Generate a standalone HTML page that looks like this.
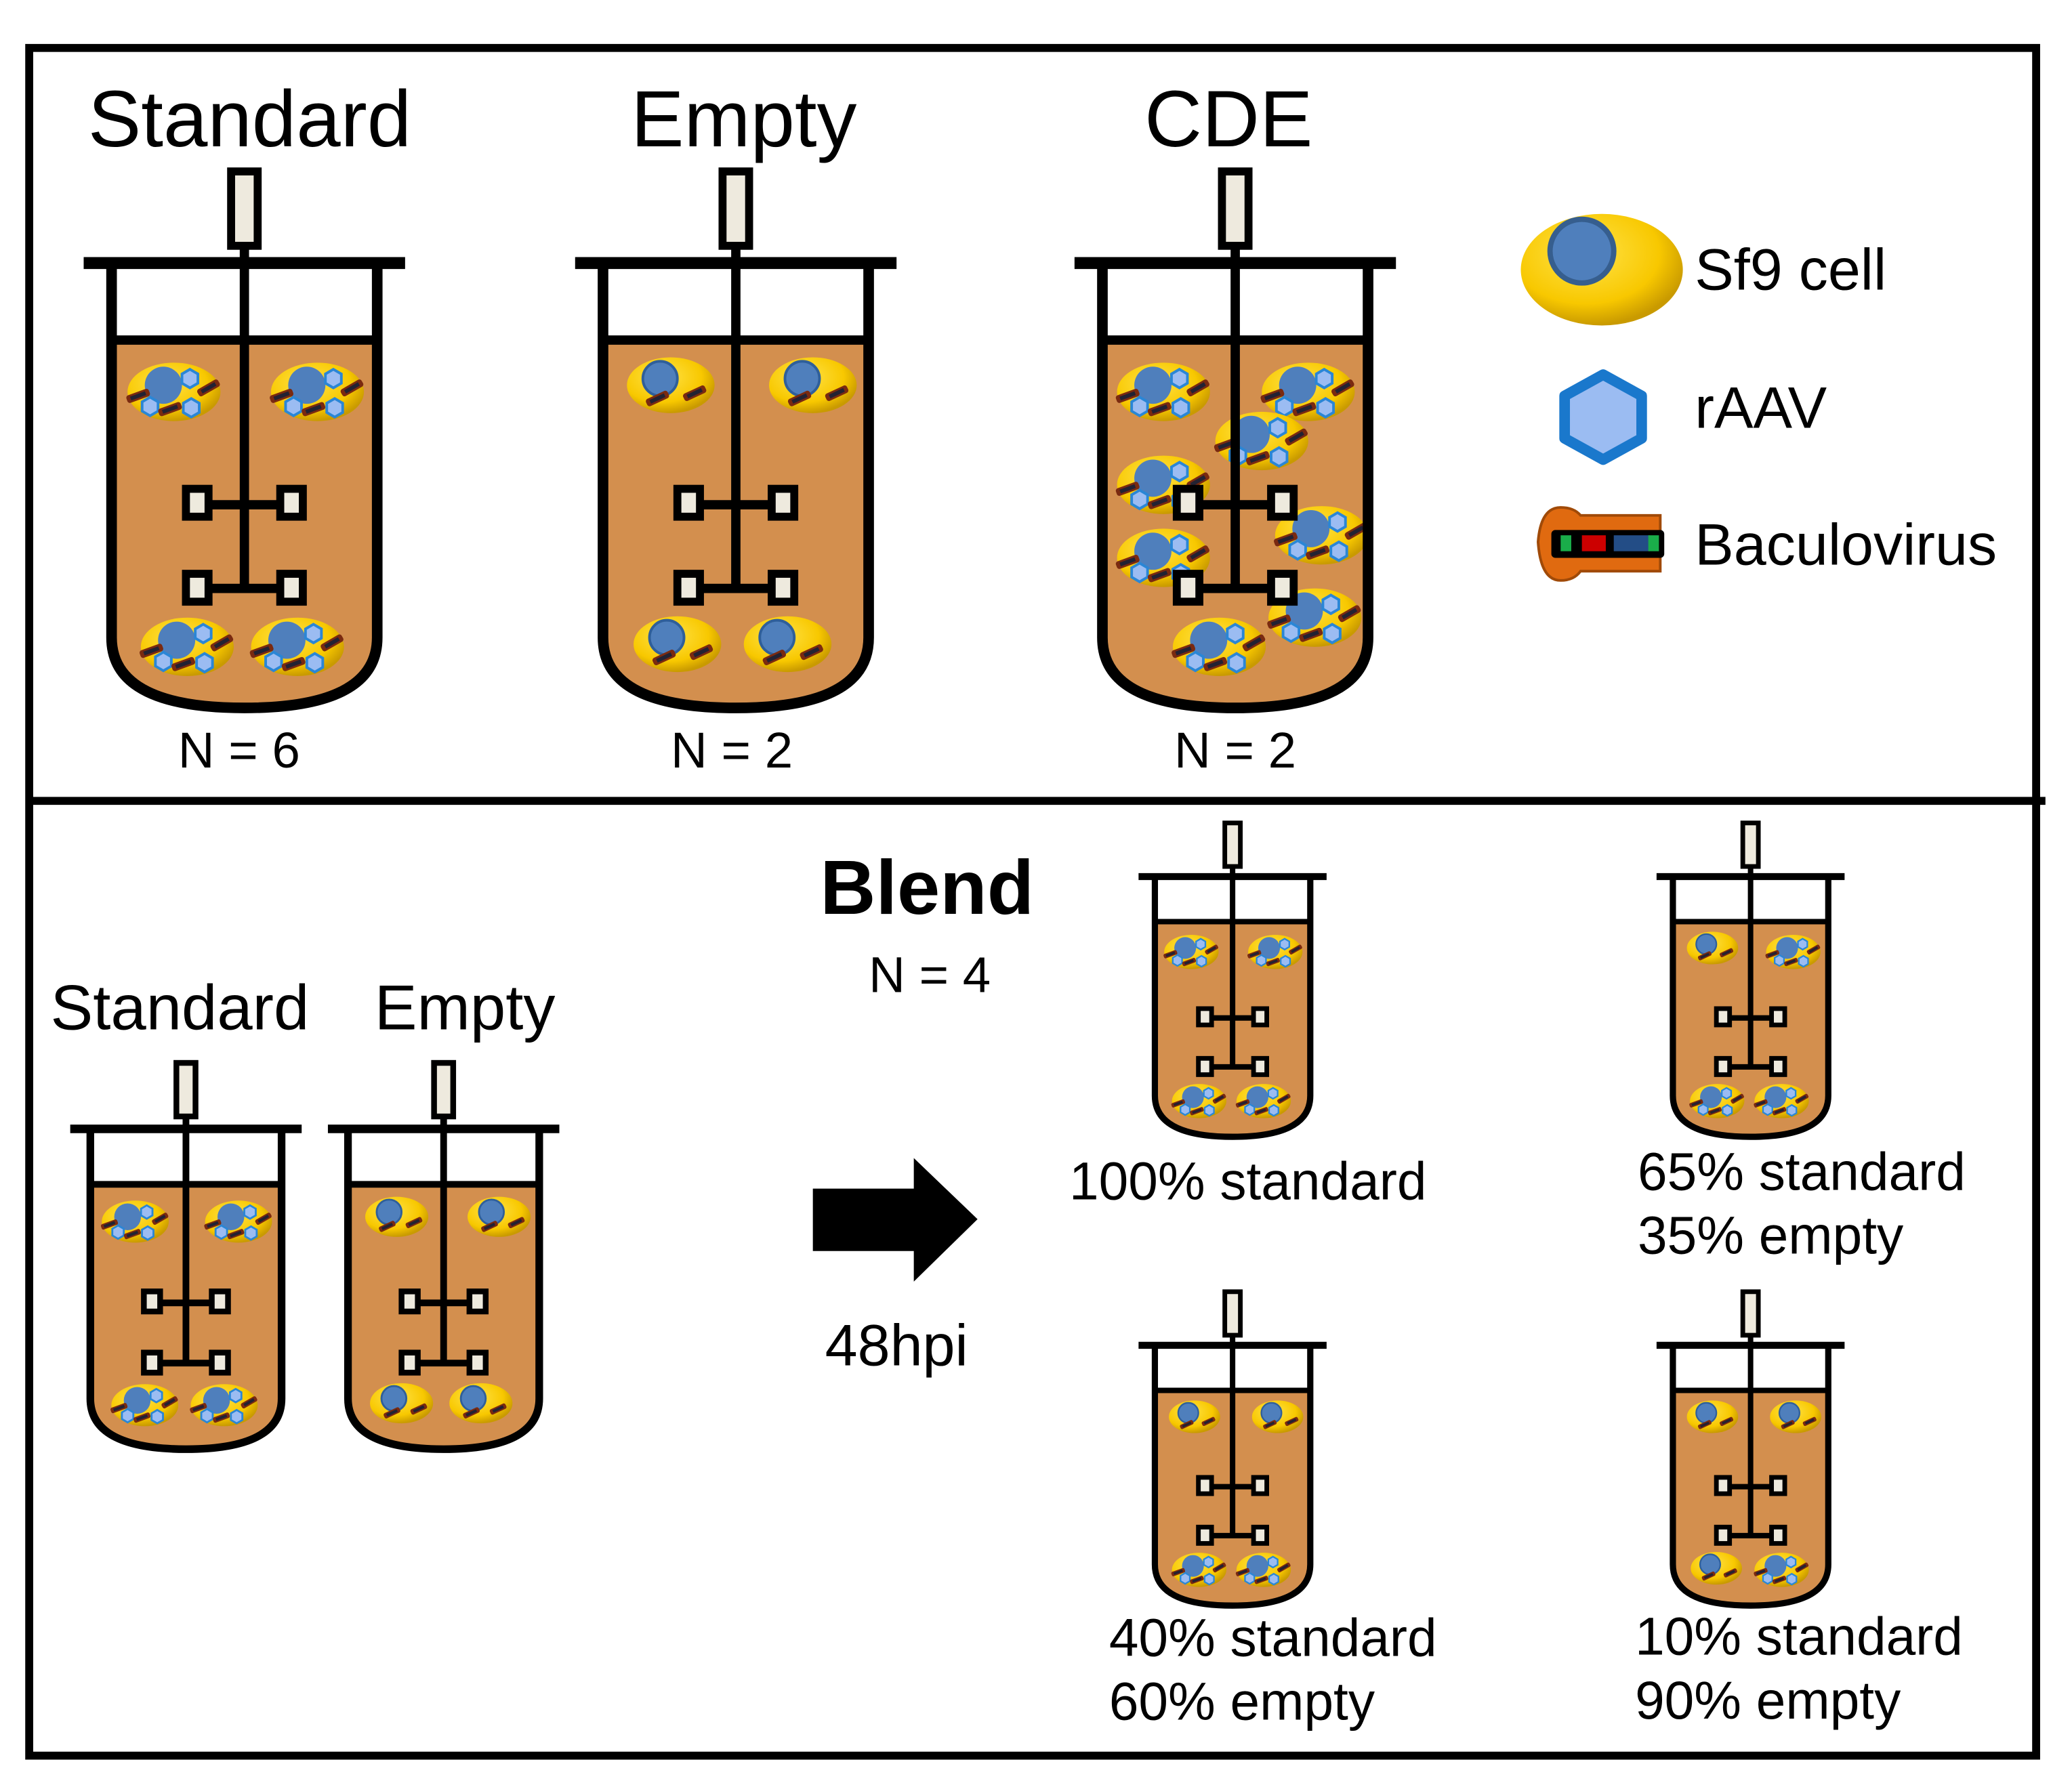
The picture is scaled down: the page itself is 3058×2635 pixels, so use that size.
<!DOCTYPE html>
<html><head><meta charset="utf-8"><style>
html,body{margin:0;padding:0;background:#fff}
svg{display:block}
text{font-family:"Liberation Sans",sans-serif;fill:#000}
</style></head><body>
<svg width="3058" height="2635" viewBox="0 0 1560 1344" xmlns="http://www.w3.org/2000/svg">
<defs>
<radialGradient id="yg" cx="40%" cy="35%" r="65%">
<stop offset="0" stop-color="#ffe34a"/><stop offset="0.7" stop-color="#f8c800"/><stop offset="1" stop-color="#c99a00"/>
</radialGradient>
<g id="hex"><polygon points="0,-7 6,-3.5 6,3.5 0,7 -6,3.5 -6,-3.5" fill="#9bbcf2" stroke="#2a86d6" stroke-width="2"/></g>
<g id="bac"><rect x="-9" y="-3" width="18" height="6" rx="2" fill="#7a2a10"/><rect x="-6" y="-1.5" width="12" height="3" fill="#223"/></g>
<g id="cellF">
<ellipse cx="0" cy="0" rx="35" ry="22" fill="url(#yg)"/>
<circle cx="-8" cy="-5" r="14" fill="#4f7fbc"/>
<use href="#hex" x="12" y="-10"/><use href="#hex" x="-18" y="11"/><use href="#hex" x="13" y="12"/>
<use href="#bac" transform="translate(-27,3) rotate(-20)"/><use href="#bac" transform="translate(-3,13) rotate(-20)"/><use href="#bac" transform="translate(26,-3) rotate(-30)"/>
</g>
<g id="cellE">
<ellipse cx="0" cy="0" rx="33" ry="21" fill="url(#yg)"/>
<circle cx="-8" cy="-5" r="13" fill="#4f7fbc" stroke="#2f5f9a" stroke-width="2"/>
<use href="#bac" transform="translate(-10,10) rotate(-25)"/><use href="#bac" transform="translate(18,6) rotate(-25)"/>
</g>
<g id="reactor">
<path d="M-100 58 H100 V282 Q100 335 0 335 Q-100 335 -100 282 Z" fill="#d38f4e"/>
<line x1="-100" y1="58" x2="100" y2="58" stroke="#000" stroke-width="7"/>
</g>
<g id="reactorFrame">
<path d="M-100 0 V282 Q-100 335 0 335 Q100 335 100 282 V0" fill="none" stroke="#000" stroke-width="8"/>
<line x1="-121" y1="0" x2="121" y2="0" stroke="#000" stroke-width="9"/>
<rect x="-10" y="-69" width="20" height="56" fill="#eeeade" stroke="#000" stroke-width="6"/>
<line x1="0" y1="-12" x2="0" y2="248" stroke="#000" stroke-width="7"/>
<line x1="-30" y1="182" x2="30" y2="182" stroke="#000" stroke-width="7"/>
<line x1="-30" y1="245" x2="30" y2="245" stroke="#000" stroke-width="7"/>
<rect x="-44" y="170" width="17" height="21" fill="#eeeade" stroke="#000" stroke-width="6"/>
<rect x="27" y="170" width="17" height="21" fill="#eeeade" stroke="#000" stroke-width="6"/>
<rect x="-44" y="234" width="17" height="21" fill="#eeeade" stroke="#000" stroke-width="6"/>
<rect x="27" y="234" width="17" height="21" fill="#eeeade" stroke="#000" stroke-width="6"/>
</g>
<g id="rStd"><use href="#reactor"/>
<use href="#cellF" x="-53" y="97"/><use href="#cellF" x="55" y="97"/><use href="#cellF" x="-43" y="289"/><use href="#cellF" x="40" y="289"/>
<use href="#reactorFrame"/></g>
<g id="rEmp"><use href="#reactor"/>
<use href="#cellE" x="-49" y="92"/><use href="#cellE" x="58" y="92"/><use href="#cellE" x="-44" y="287"/><use href="#cellE" x="39" y="287"/>
<use href="#reactorFrame"/></g>
<g id="rMix1"><use href="#reactor"/>
<use href="#cellE" x="-49" y="92"/><use href="#cellF" x="55" y="97"/><use href="#cellF" x="-43" y="289"/><use href="#cellF" x="40" y="289"/>
<use href="#reactorFrame"/></g>
<g id="rMix2"><use href="#reactor"/>
<use href="#cellE" x="-49" y="92"/><use href="#cellE" x="58" y="92"/><use href="#cellF" x="-43" y="289"/><use href="#cellF" x="40" y="289"/>
<use href="#reactorFrame"/></g>
<g id="rMix3"><use href="#reactor"/>
<use href="#cellE" x="-49" y="92"/><use href="#cellE" x="58" y="92"/><use href="#cellE" x="-44" y="287"/><use href="#cellF" x="40" y="289"/>
<use href="#reactorFrame"/></g>
</defs>

<rect x="22" y="36" width="1511" height="1286" fill="none" stroke="#000" stroke-width="6"/>
<line x1="22" y1="603" x2="1540" y2="603" stroke="#000" stroke-width="6"/>

<text x="188" y="110" font-size="60" text-anchor="middle">Standard</text>
<text x="560" y="110" font-size="60" text-anchor="middle">Empty</text>
<text x="925" y="110" font-size="60" text-anchor="middle">CDE</text>

<use href="#rStd" transform="translate(184,198)"/>
<use href="#rEmp" transform="translate(554,198)"/>
<g transform="translate(930,198)">
<use href="#reactor"/>
<use href="#cellF" x="-54" y="97"/><use href="#cellF" x="55" y="97"/><use href="#cellF" x="20" y="134"/>
<use href="#cellF" x="-54" y="167"/><use href="#cellF" x="-54" y="222"/><use href="#cellF" x="65" y="205"/>
<use href="#cellF" x="60" y="267"/><use href="#cellF" x="-12" y="289"/>
<use href="#reactorFrame"/>
</g>

<text x="180" y="578" font-size="38" text-anchor="middle">N = 6</text>
<text x="551" y="578" font-size="38" text-anchor="middle">N = 2</text>
<text x="930" y="578" font-size="38" text-anchor="middle">N = 2</text>

<ellipse cx="1206" cy="203" rx="61" ry="42" fill="url(#yg)"/>
<circle cx="1191" cy="189" r="24" fill="#4f7fbc" stroke="#365e8e" stroke-width="4"/>
<text x="1276" y="218" font-size="44">Sf9 cell</text>
<polygon points="1207,282 1236,298 1236,330 1207,346 1178,330 1178,298" fill="#9bbcf2" stroke="#1a78cc" stroke-width="8" stroke-linejoin="round"/>
<text x="1276" y="322" font-size="44">rAAV</text>
<path d="M1175 382 Q1160 382 1158 408 Q1160 437 1175 437 Q1185 437 1190 430 H1250 V388 H1190 Q1185 382 1175 382 Z" fill="#e06a10" stroke="#a04a08" stroke-width="2"/>
<rect x="1168" y="399" width="85" height="21" rx="3" fill="#000"/>
<rect x="1175" y="403" width="8" height="12" fill="#1aad4a"/>
<rect x="1191" y="403" width="18" height="12" fill="#c00"/>
<rect x="1215" y="403" width="27" height="12" fill="#234d86"/>
<rect x="1241" y="403" width="8" height="12" fill="#1aad4a"/>
<text x="1276" y="425" font-size="44">Baculovirus</text>

<text x="38" y="775" font-size="48">Standard</text>
<text x="282" y="775" font-size="48">Empty</text>
<use href="#rStd" transform="translate(140,850) scale(0.72)"/>
<use href="#rEmp" transform="translate(334,850) scale(0.72)"/>

<text x="698" y="688" font-size="58" font-weight="bold" text-anchor="middle">Blend</text>
<text x="700" y="747" font-size="38" text-anchor="middle">N = 4</text>
<polygon points="612,895 688,895 688,872 736,918 688,965 688,942 612,942" fill="#000"/>
<text x="675" y="1028" font-size="44" text-anchor="middle">48hpi</text>

<use href="#rStd" transform="translate(928,660) scale(0.585)"/>
<use href="#rMix1" transform="translate(1318,660) scale(0.585)"/>
<use href="#rMix2" transform="translate(928,1013) scale(0.585)"/>
<use href="#rMix3" transform="translate(1318,1013) scale(0.585)"/>

<text x="805" y="903" font-size="40">100% standard</text>
<text x="1233" y="896" font-size="40">65% standard</text>
<text x="1233" y="944" font-size="40">35% empty</text>
<text x="835" y="1247" font-size="40">40% standard</text>
<text x="835" y="1295" font-size="40">60% empty</text>
<text x="1231" y="1246" font-size="40">10% standard</text>
<text x="1231" y="1294" font-size="40">90% empty</text>
</svg>
</body></html>
